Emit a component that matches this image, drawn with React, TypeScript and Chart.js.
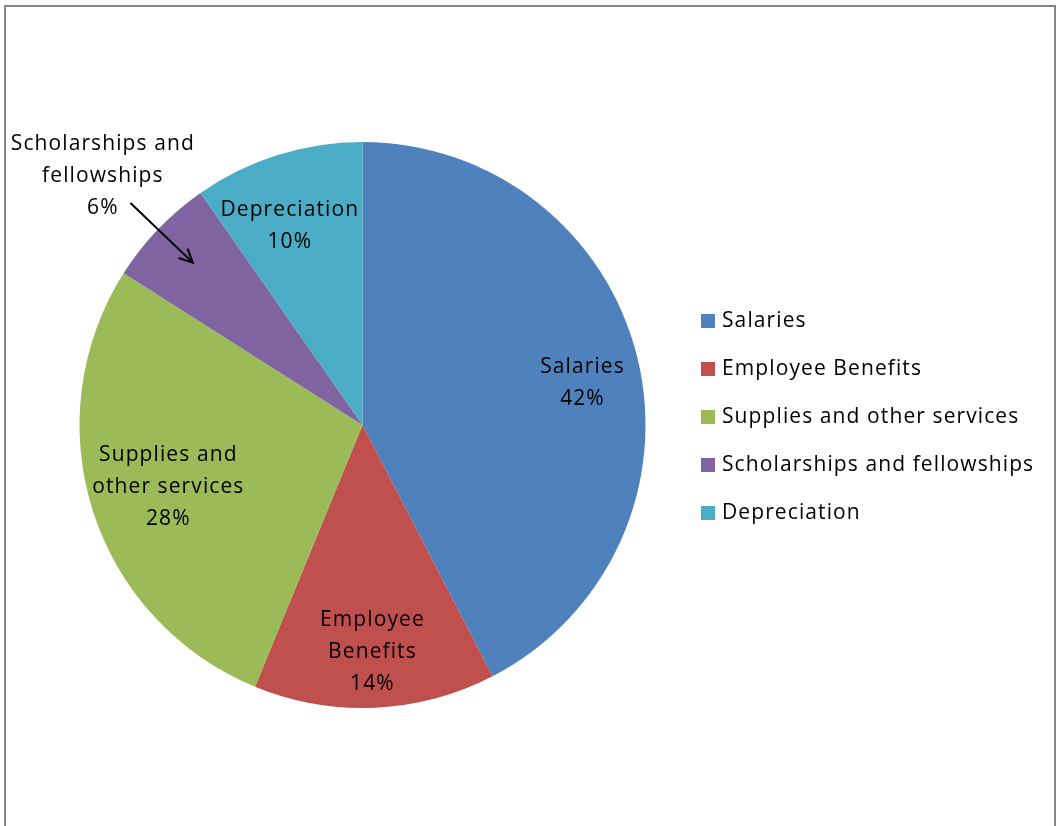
import React, { useEffect, useRef } from "react";
import { Chart, registerables } from "chart.js";

Chart.register(...registerables);

const categories = [
  "Salaries",
  "Employee Benefits",
  "Supplies and other services",
  "Scholarships and fellowships",
  "Depreciation",
];
const values = [42.4, 13.8, 27.8, 6.3, 9.7];
const colors = ["#4F81BD", "#C0504D", "#9BBB59", "#8064A2", "#4BACC6"];
const labelLines = [
  ["Salaries"],
  ["Employee", "Benefits"],
  ["Supplies and", "other services"],
  ["Scholarships and", "fellowships"],
  ["Depreciation"],
];

const W = 1061;
const H = 826;
const FONT = "21px 'Open Sans'";
const SPACING = "1.1px";
const LINE_H = 32;
// radial position of each data label as a fraction of the radius, plus small nudges
const LABEL_R = [0.8, 0.8, 0.72, 1.27, 0.75];
const LABEL_DX = [0, 0, 0, 0, -9];
const LABEL_DY = [12, 1, 0, 0, 3];
const OUTSIDE = [false, false, false, true, false];

const decorPlugin = {
  id: "decor",
  beforeDraw(chart: any) {
    const ctx = chart.ctx;
    ctx.save();
    ctx.fillStyle = "#ffffff";
    ctx.fillRect(0, 0, W, H);
    ctx.strokeStyle = "#868686";
    ctx.lineWidth = 2;
    ctx.beginPath();
    ctx.moveTo(5, H + 5);
    ctx.lineTo(5, 6);
    ctx.lineTo(1055, 6);
    ctx.lineTo(1055, H + 5);
    ctx.stroke();
    ctx.restore();
  },
  afterDraw(chart: any) {
    const ctx = chart.ctx;
    const meta = chart.getDatasetMeta(0);
    const data = chart.data.datasets[0].data as number[];
    const total = data.reduce((a: number, b: number) => a + b, 0);
    ctx.save();
    ctx.font = FONT;
    (ctx as any).letterSpacing = SPACING;
    ctx.fillStyle = "#000000";
    ctx.textAlign = "center";
    ctx.textBaseline = "middle";
    meta.data.forEach((arc: any, i: number) => {
      const { x, y, startAngle, endAngle, outerRadius } = arc.getProps(
        ["x", "y", "startAngle", "endAngle", "outerRadius"],
        true
      );
      const mid = (startAngle + endAngle) / 2;
      const r = outerRadius * LABEL_R[i];
      const px = x + Math.cos(mid) * r + LABEL_DX[i];
      const py = y + Math.sin(mid) * r + LABEL_DY[i];
      const lines = [...labelLines[i], Math.round((data[i] / total) * 100) + "%"];
      const top = py - ((lines.length - 1) * LINE_H) / 2;
      lines.forEach((t, k) => ctx.fillText(t, px, top + k * LINE_H));
      if (OUTSIDE[i]) {
        const r1 = outerRadius * 1.135;
        const r2 = outerRadius * 0.83;
        const x1 = x + Math.cos(mid) * r1;
        const y1 = y + Math.sin(mid) * r1;
        const x2 = x + Math.cos(mid) * r2;
        const y2 = y + Math.sin(mid) * r2;
        ctx.strokeStyle = "#000000";
        ctx.lineWidth = 2;
        ctx.beginPath();
        ctx.moveTo(x1, y1);
        ctx.lineTo(x2, y2);
        const ang = Math.atan2(y2 - y1, x2 - x1);
        const hl = 15;
        const ha = 0.45;
        ctx.moveTo(x2 - hl * Math.cos(ang - ha), y2 - hl * Math.sin(ang - ha));
        ctx.lineTo(x2, y2);
        ctx.lineTo(x2 - hl * Math.cos(ang + ha), y2 - hl * Math.sin(ang + ha));
        ctx.stroke();
      }
    });
    // legend
    const lx = 701;
    const ly = 321;
    const step = 48;
    chart.data.labels.forEach((lab: string, i: number) => {
      const cy = ly + i * step;
      ctx.fillStyle = (chart.data.datasets[0].backgroundColor as string[])[i];
      ctx.fillRect(lx, cy - 7, 14, 14);
      ctx.fillStyle = "#000000";
      ctx.textAlign = "left";
      ctx.fillText(lab, lx + 21, cy);
    });
    ctx.restore();
  },
};

export default function App() {
  const ref = useRef<HTMLCanvasElement | null>(null);
  useEffect(() => {
    if (!ref.current) return;
    const chart = new Chart(ref.current, {
      type: "pie",
      data: {
        labels: categories,
        datasets: [
          {
            data: values,
            backgroundColor: colors,
            borderWidth: 0,
            hoverOffset: 0,
            offset: 0,
          },
        ],
      },
      options: {
        animation: false,
        responsive: false,
        devicePixelRatio: 1,
        events: [],
        layout: { padding: { left: 79, right: 415, top: 142, bottom: 118 } },
        plugins: {
          legend: { display: false },
          tooltip: { enabled: false },
          title: { display: false },
        },
      },
      plugins: [decorPlugin],
    });
    return () => chart.destroy();
  }, []);
  return (
    <div style={{ position: "fixed", left: 0, top: 0, width: W, height: H }}>
      <canvas ref={ref} width={W} height={H} style={{ display: "block" }} />
    </div>
  );
}
